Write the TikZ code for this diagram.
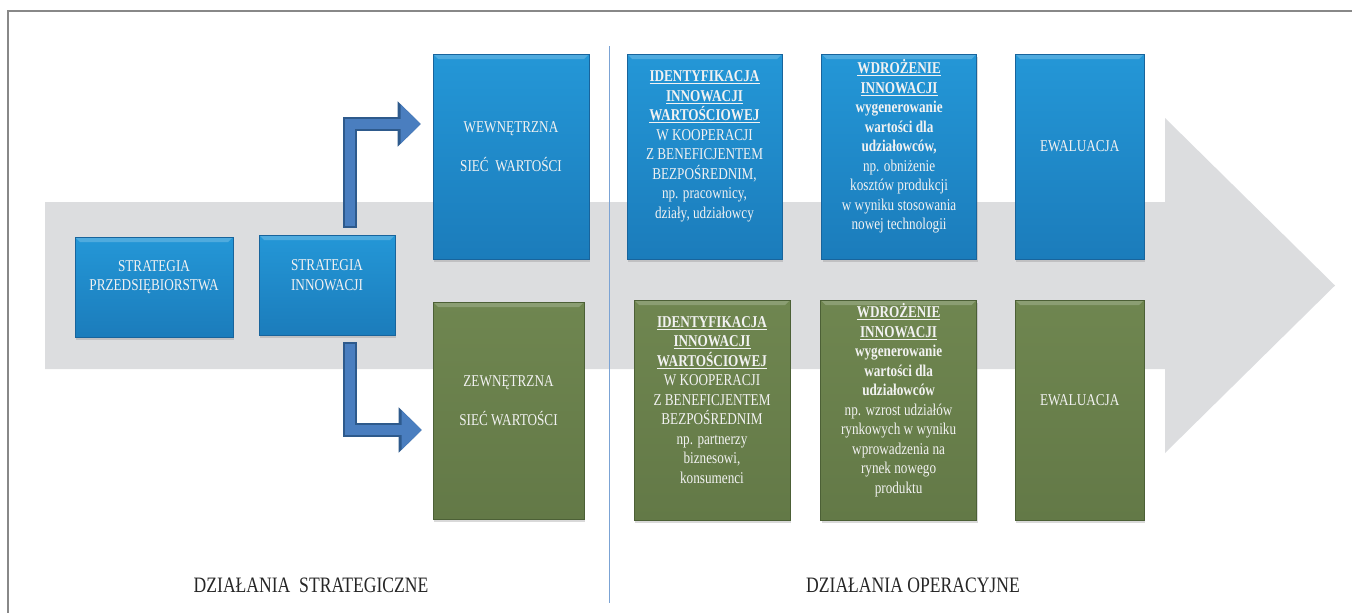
\documentclass[tikz,border=0pt]{standalone}
\usepackage{fontspec}
\setmainfont[FakeStretch=0.8]{Liberation Serif}
\usetikzlibrary{arrows.meta, positioning, shadows}

\definecolor{boxbluetop}{RGB}{36,151,215}
\definecolor{boxbluebot}{RGB}{27,124,187}
\definecolor{boxblueedge}{RGB}{24,100,156}
\definecolor{boxgreentop}{RGB}{111,134,80}
\definecolor{boxgreenbot}{RGB}{99,121,71}
\definecolor{boxgreenedge}{RGB}{76,96,54}
\definecolor{flowgray}{RGB}{220,221,223}
\definecolor{bendfill}{RGB}{74,126,191}
\definecolor{bendedge}{RGB}{46,90,140}
\definecolor{sepblue}{RGB}{123,163,212}
\definecolor{framegray}{RGB}{136,136,136}
\definecolor{boxtxt}{RGB}{242,242,242}

\tikzset{
  bevel/.style={path picture={
      \fill[white, opacity=0.2] (path picture bounding box.north west) -- (path picture bounding box.north east)
        -- ([shift={(-5pt,-5pt)}]path picture bounding box.north east) -- ([shift={(5pt,-5pt)}]path picture bounding box.north west) -- cycle;}},
  bluebox/.style={draw=boxblueedge, line width=0.6pt, inner sep=0pt, top color=boxbluetop, bottom color=boxbluebot, bevel,
      drop shadow={shadow xshift=1pt, shadow yshift=-3pt, opacity=0.3}},
  greenbox/.style={draw=boxgreenedge, line width=0.6pt, inner sep=0pt, top color=boxgreentop, bottom color=boxgreenbot, bevel,
      drop shadow={shadow xshift=1pt, shadow yshift=-3pt, opacity=0.3}},
  boxtext/.style={align=center, text=boxtxt, inner sep=0pt, font=\fontsize{16.5}{19.5}\selectfont},
  sectlabel/.style={text=black!85, inner sep=0pt, font=\fontsize{22}{26}\selectfont},
  bentarrow/.style={line width=10pt, draw=bendfill, shorten <=2pt, -{Triangle[length=20pt, width=38pt]},
      preaction={draw=bendedge, line width=14pt, shorten <=0pt, -{Triangle[length=23pt, width=44pt]}}}
}

\begin{document}
\begin{tikzpicture}[x=1pt, y=-1pt]
  \useasboundingbox (0,0) rectangle (1352,613);
  % frame and the big gray arrow
  \draw[framegray, line width=2pt] (8,613) -- (8,11) -- (1352,11);
  \fill[flowgray] (45,202) -- (1165,202) -- (1165,118) -- (1335,285.5) -- (1165,453) -- (1165,369) -- (45,369) -- cycle;
  \draw[sepblue, line width=1pt] (609,46) -- (609,603);

  % strategic part
  \node[bluebox, minimum width=158pt, minimum height=100pt] (strat-firm) at (154,287) {};
  \node[bluebox, minimum width=136pt, minimum height=100pt] (strat-inn) at (327,285) {};
  \node[bluebox, minimum width=156pt, minimum height=205pt] (wew) at (511,156.5) {};
  \node[greenbox, minimum width=151pt, minimum height=217pt] (zew) at (508.5,410.5) {};

  % operational part
  \node[bluebox, minimum width=155pt, minimum height=205pt] (ident-w) at (704.5,156.5) {};
  \node[bluebox, minimum width=155pt, minimum height=205pt, right=39pt of ident-w] (wdroz-w) {};
  \node[bluebox, minimum width=129pt, minimum height=205pt, right=38pt of wdroz-w] (ewal-w) {};
  \node[greenbox, minimum width=156pt, minimum height=220pt] (ident-z) at (712,410) {};
  \node[greenbox, minimum width=156pt, minimum height=220pt, right=30pt of ident-z] (wdroz-z) {};
  \node[greenbox, minimum width=129pt, minimum height=220pt, right=38pt of wdroz-z] (ewal-z) {};

  % texts
  \node[boxtext] (strat-firm-t) at ([yshift=10pt]strat-firm.center) {STRATEGIA\\PRZEDSIĘBIORSTWA};
  \node[boxtext] (strat-inn-t) at ([yshift=10pt]strat-inn.center) {STRATEGIA\\INNOWACJI};
  \node[boxtext] (wew-t) at ([yshift=10pt]wew.center) {WEWNĘTRZNA\\[19pt]SIEĆ~~WARTOŚCI};
  \node[boxtext] (zew-t) at ([yshift=10pt]zew.center) {ZEWNĘTRZNA\\[19pt]SIEĆ WARTOŚCI};
  \node[boxtext] (ident-w-t) at ([yshift=10pt]ident-w.center) {\underline{\textbf{IDENTYFIKACJA}}\\\underline{\textbf{INNOWACJI}}\\
    \underline{\textbf{WARTOŚCIOWEJ}}\\W KOOPERACJI\\Z BENEFICJENTEM\\BEZPOŚREDNIM,\\np. pracownicy,\\działy, udziałowcy};
  \node[boxtext] (wdroz-w-t) at ([yshift=10pt]wdroz-w.center) {\underline{\textbf{WDROŻENIE}}\\\underline{\textbf{INNOWACJI}}\\
    \textbf{wygenerowanie}\\\textbf{wartości dla}\\\textbf{udziałowców,}\\np. obniżenie\\kosztów produkcji\\w wyniku stosowania\\nowej technologii};
  \node[boxtext] (ewal-w-t) at ([yshift=10pt]ewal-w.center) {EWALUACJA};
  \node[boxtext] (ident-z-t) at ([yshift=10pt]ident-z.center) {\underline{\textbf{IDENTYFIKACJA}}\\\underline{\textbf{INNOWACJI}}\\
    \underline{\textbf{WARTOŚCIOWEJ}}\\W KOOPERACJI\\Z BENEFICJENTEM\\BEZPOŚREDNIM\\np. partnerzy\\biznesowi,\\konsumenci};
  \node[boxtext] (wdroz-z-t) at ([yshift=10pt]wdroz-z.center) {\underline{\textbf{WDROŻENIE}}\\\underline{\textbf{INNOWACJI}}\\
    \textbf{wygenerowanie}\\\textbf{wartości dla}\\\textbf{udziałowców}\\np. wzrost udziałów\\rynkowych w wyniku\\wprowadzenia na\\rynek nowego\\produktu};
  \node[boxtext] (ewal-z-t) at ([yshift=10pt]ewal-z.center) {EWALUACJA};

  \node[sectlabel] (strat-lbl) at (311,585) {DZIAŁANIA~~STRATEGICZNE};
  \node[sectlabel] (oper-lbl) at (913,585) {DZIAŁANIA OPERACYJNE};

  % bent arrows from the innovation strategy
  \coordinate (up-start) at ([xshift=23pt, yshift=7pt]strat-inn.north);
  \coordinate (up-end) at ([xshift=-12pt, yshift=32.5pt]wew.west);
  \coordinate (down-start) at ([xshift=23pt, yshift=-7pt]strat-inn.south);
  \coordinate (down-end) at ([xshift=-11pt, yshift=-19.5pt]zew.west);
  \draw[bentarrow] (up-start) |- (up-end);
  \draw[bentarrow] (down-start) |- (down-end);
\end{tikzpicture}
\end{document}
